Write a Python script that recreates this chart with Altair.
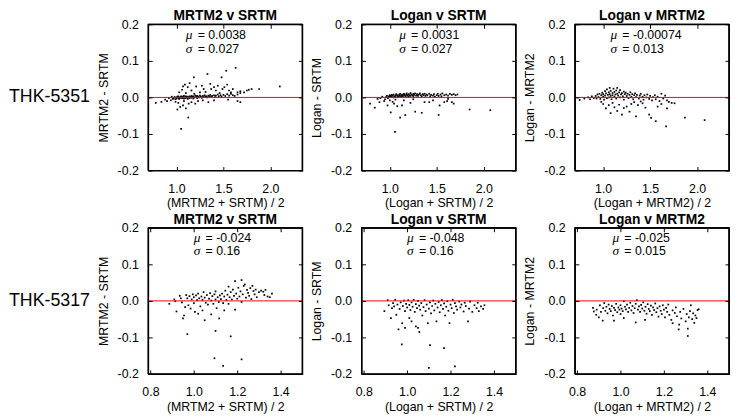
import altair as alt
import pandas as pd

FONT = "Liberation Sans"
INK = "#000000"

# ---------------- data ----------------
row_labels = ["THK-5351", "THK-5317"]
titles = ["MRTM2 v SRTM", "Logan v SRTM", "Logan v MRTM2"]
y_titles = ["MRTM2 - SRTM", "Logan - SRTM", "Logan - MRTM2"]
x_titles = ["(MRTM2 + SRTM) / 2", "(Logan + SRTM) / 2", "(Logan + MRTM2) / 2"]
mu_text = ["0.0038", "0.0031", "-0.00074", "-0.024", "-0.048", "-0.025"]
sigma_text = ["0.027", "0.027", "0.013", "0.16", "0.16", "0.015"]
y_tick_values = [-0.2, -0.1, 0.0, 0.1, 0.2]
x_ticks_top = [1.0, 1.5, 2.0]
x_ticks_bottom = [0.8, 1.0, 1.2, 1.4]
x_domain_top = [0.7, 2.34]
x_domain_bottom = [0.79, 1.5]
y_domain = [-0.2, 0.2]

a_5351_mrtm2_srtm = [
    (0.78,-0.015),(0.84,-0.012),(0.88,-0.006),(0.90,-0.010),(0.92,-0.002),(0.94,-0.008),(0.95,0.002),(0.96,-0.004),
    (0.97,-0.003),(0.98,0.001),(0.99,-0.005),(1.00,0.000),(1.00,-0.003),(1.01,0.002),(1.02,-0.002),(1.02,0.003),
    (1.03,-0.004),(1.04,0.001),(1.04,-0.001),(1.05,0.003),(1.06,-0.002),(1.06,0.000),(1.07,0.002),(1.08,-0.003),
    (1.08,0.004),(1.09,0.000),(1.10,-0.002),(1.10,0.003),(1.11,0.001),(1.12,-0.004),(1.12,0.002),(1.13,0.000),
    (1.14,0.003),(1.14,-0.002),(1.15,0.001),(1.16,0.004),(1.16,-0.001),(1.17,0.002),(1.18,-0.003),(1.18,0.003),
    (1.19,0.000),(1.20,0.005),(1.21,0.001),(1.22,-0.002),(1.22,0.004),(1.23,0.002),(1.24,0.000),(1.25,0.005),
    (1.26,0.002),(1.27,-0.001),(1.28,0.004),(1.29,0.001),(1.30,0.006),(1.31,0.002),(1.32,0.003),(1.33,0.000),
    (1.34,0.005),(1.35,0.003),(1.36,0.007),(1.37,0.002),(1.38,0.004),(1.40,0.006),(1.41,0.001),(1.42,0.005),
    (1.44,0.008),(1.45,0.003),(1.47,0.006),(1.48,0.002),(1.50,0.007),(1.52,0.004),(1.54,0.009),(1.56,0.005),
    (1.58,0.010),(1.60,0.006),(1.62,0.004),(1.65,0.008),(1.68,0.012),
    (1.03,0.014),(1.06,0.021),(1.07,0.030),(1.09,0.035),(1.12,0.028),(1.14,0.039),(1.16,0.019),(1.185,0.055),
    (1.21,0.030),(1.25,0.014),(1.27,0.032),(1.29,0.023),(1.33,0.064),(1.36,0.037),(1.37,0.023),(1.40,0.028),
    (1.42,0.019),(1.44,0.032),(1.48,0.055),(1.49,0.023),(1.51,0.028),(1.53,0.073),(1.54,0.035),(1.56,0.019),
    (1.58,0.014),(1.60,0.023),(1.63,0.081),(1.65,0.014),(1.68,0.017),(1.72,0.014),(1.75,0.019),(1.77,0.021),
    (1.80,0.023),(1.88,0.023),(2.10,0.030),(1.10,0.012),(1.19,0.010),(1.31,0.015),(1.46,0.012),
    (1.02,-0.015),(1.04,-0.026),(1.01,-0.033),(1.07,-0.022),(1.10,-0.030),(1.13,-0.017),(1.16,-0.013),(1.20,-0.017),
    (1.23,-0.010),(1.126,-0.055),(1.05,-0.086),(1.34,-0.013),(1.40,-0.008),(1.55,-0.006),(1.65,-0.010),(1.68,-0.013),
    (0.99,-0.012),(1.08,-0.010),(1.28,-0.008),
]

b_5351_logan_srtm = [
    (0.79,-0.017),(0.84,-0.028),(0.87,-0.004),(0.89,-0.013),(0.90,-0.002),(0.92,0.002),(0.94,-0.010),(0.95,-0.005),
    (0.96,0.001),(0.97,0.004),(0.98,-0.002),(0.99,0.003),(1.00,0.006),(1.00,0.001),(1.01,0.004),(1.02,0.007),
    (1.02,0.002),(1.03,0.005),(1.04,0.000),(1.04,0.008),(1.05,0.003),(1.06,0.006),(1.06,0.001),(1.07,0.009),
    (1.08,0.004),(1.08,0.006),(1.09,0.002),(1.10,0.007),(1.10,0.004),(1.11,0.010),(1.12,0.005),(1.12,0.002),
    (1.13,0.008),(1.14,0.006),(1.14,0.003),(1.15,0.010),(1.16,0.005),(1.16,0.008),(1.17,0.003),(1.18,0.007),
    (1.18,0.011),(1.19,0.005),(1.20,0.009),(1.20,0.002),(1.21,0.006),(1.22,0.012),(1.22,0.004),(1.23,0.008),
    (1.24,0.006),(1.25,0.010),(1.25,0.003),(1.26,0.007),(1.27,0.011),(1.28,0.005),(1.29,0.009),(1.30,0.004),
    (1.31,0.008),(1.32,0.011),(1.33,0.006),(1.34,0.003),(1.35,0.009),(1.36,0.006),(1.37,0.010),(1.38,0.004),
    (1.39,0.008),(1.40,0.006),(1.42,0.010),(1.43,0.003),(1.44,0.007),(1.46,0.005),(1.47,0.009),(1.48,0.002),
    (1.50,0.006),(1.51,0.010),(1.52,0.004),(1.54,0.008),(1.55,0.003),(1.56,0.011),(1.58,0.006),(1.60,0.008),
    (1.62,0.005),(1.64,0.010),(1.66,0.007),(1.68,0.009),(1.70,0.006),(1.72,0.008),
    (0.976,-0.022),(1.01,-0.041),(1.045,-0.017),(1.08,-0.024),(1.11,-0.055),(1.13,-0.022),(1.165,-0.048),(1.22,-0.015),
    (1.27,-0.039),(1.34,-0.042),(1.37,-0.013),(1.42,-0.013),(1.52,-0.048),(1.53,-0.022),(1.58,-0.013),(1.61,-0.010),
    (1.66,-0.013),(1.68,-0.017),(1.85,-0.033),(2.07,-0.035),(1.055,-0.094),(1.00,-0.008),(1.03,-0.012),(1.06,-0.006),
    (1.15,-0.008),(1.25,-0.005),(1.46,-0.008),(1.62,-0.004),
]

c_5351_logan_mrtm2 = [
    (0.75,-0.007),(0.80,-0.003),(0.84,0.000),(0.86,-0.005),(0.88,0.003),(0.90,-0.002),
    (0.92,0.004),(0.93,-0.003),(0.94,0.008),(0.95,0.001),(0.96,0.010),(0.97,-0.004),(0.98,0.006),(0.99,0.013),
    (1.00,0.002),(1.00,0.009),(1.01,-0.006),(1.02,0.017),(1.02,0.005),(1.03,0.011),(1.04,-0.002),(1.04,0.022),
    (1.05,0.007),(1.06,0.014),(1.06,0.000),(1.07,0.026),(1.07,0.009),(1.08,0.004),(1.08,0.018),(1.09,-0.005),
    (1.10,0.012),(1.10,0.006),(1.11,0.024),(1.12,0.002),(1.12,0.015),(1.13,0.008),(1.14,0.019),(1.14,-0.003),
    (1.15,0.026),(1.15,0.010),(1.16,0.005),(1.17,0.014),(1.18,0.000),(1.18,0.020),(1.19,0.008),(1.20,0.012),
    (1.21,0.003),(1.22,0.016),(1.22,-0.006),(1.23,0.009),(1.24,0.013),(1.25,0.004),(1.26,0.010),(1.27,-0.002),
    (1.28,0.007),(1.29,0.014),(1.30,0.002),(1.31,0.009),(1.32,-0.005),(1.33,0.006),(1.34,0.011),(1.35,0.001),
    (1.36,0.007),(1.38,-0.003),(1.39,0.005),(1.40,0.010),(1.42,0.002),(1.43,-0.006),(1.44,0.006),(1.46,0.000),
    (1.47,0.008),(1.49,-0.004),(1.50,0.004),(1.52,-0.008),(1.53,0.001),(1.55,0.006),(1.56,-0.005),(1.58,0.002),
    (1.60,-0.010),(1.62,0.010),(1.64,-0.003),(1.66,0.005),(1.68,-0.008),(1.70,-0.012),(1.73,-0.015),(1.76,-0.016),
    (0.98,-0.012),(1.00,-0.018),(1.03,-0.030),(1.06,-0.021),(1.08,-0.043),(1.10,-0.015),(1.12,-0.027),(1.15,-0.037),
    (1.17,-0.020),(1.20,-0.047),(1.22,-0.029),(1.25,-0.025),(1.28,-0.039),(1.30,-0.018),(1.35,-0.052),(1.37,-0.021),
    (1.42,-0.016),(1.45,-0.028),(1.49,-0.047),(1.51,-0.056),(1.56,-0.065),(1.58,-0.025),(1.62,-0.018),(1.68,-0.030),
    (1.67,-0.079),(1.87,-0.055),(2.08,-0.062),(1.40,-0.011),(1.33,-0.013),
]

d_5317_mrtm2_srtm = [
    (0.887,-0.008),(0.91,0.004),(0.915,-0.001),(0.92,-0.029),(0.935,0.014),(0.94,0.007),(0.945,-0.004),(0.95,-0.048),
    (0.955,-0.040),(0.96,-0.017),(0.965,0.016),(0.97,0.007),(0.975,-0.012),(0.98,0.013),(0.985,-0.021),(0.99,0.004),
    (0.995,0.018),(1.00,-0.006),(1.00,0.010),(1.005,-0.030),(1.01,0.015),(1.015,0.002),(1.02,-0.035),(1.02,0.020),
    (1.025,0.007),(1.03,-0.015),(1.035,0.012),(1.04,-0.026),(1.04,0.003),(1.045,0.024),(1.05,-0.053),(1.05,0.009),
    (1.055,-0.005),(1.06,0.016),(1.065,-0.010),(1.07,0.006),(1.075,0.021),(1.08,-0.037),(1.08,0.001),(1.085,0.013),
    (1.09,-0.008),(1.095,0.018),(1.10,0.004),(1.10,0.026),(1.105,-0.020),(1.11,0.010),(1.115,-0.003),(1.117,-0.048),
    (1.12,0.015),(1.125,0.005),(1.13,0.020),(1.135,-0.006),(1.14,0.012),(1.14,-0.026),(1.145,0.028),(1.15,0.003),
    (1.155,0.017),(1.16,0.039),(1.16,-0.008),(1.165,0.010),(1.17,0.024),(1.175,0.004),(1.18,0.031),(1.185,0.014),
    (1.19,0.054),(1.19,-0.024),(1.195,0.020),(1.20,0.006),(1.205,0.036),(1.21,0.012),(1.215,0.026),(1.22,0.057),
    (1.22,-0.003),(1.225,0.018),(1.23,0.041),(1.235,0.045),(1.24,0.009),(1.245,0.030),(1.25,0.022),(1.255,0.014),
    (1.26,0.035),(1.265,0.005),(1.27,0.041),(1.275,0.027),(1.28,0.018),(1.285,0.031),(1.29,0.010),(1.30,0.024),
    (1.31,0.028),(1.32,0.025),(1.325,0.016),(1.33,0.030),(1.34,0.012),(1.35,0.010),(1.36,0.020),
    (0.97,-0.091),(1.10,-0.082),(1.17,-0.097),(1.095,-0.157),(1.22,-0.160),(1.135,-0.178),
]

e_5317_logan_srtm = [
    (0.895,-0.028),(0.91,0.002),(0.915,-0.012),(0.925,-0.047),(0.93,-0.020),(0.935,-0.006),(0.94,-0.015),(0.945,0.003),
    (0.95,-0.038),(0.955,-0.010),(0.96,-0.078),(0.965,-0.022),(0.97,-0.004),(0.975,-0.119),(0.977,-0.061),(0.98,-0.014),
    (0.985,0.001),(0.99,-0.074),(0.99,-0.028),(0.995,-0.008),(1.00,-0.018),(1.005,0.002),(1.01,-0.047),(1.01,-0.011),
    (1.015,-0.025),(1.02,-0.056),(1.02,-0.004),(1.025,-0.016),(1.03,0.003),(1.035,-0.030),(1.04,-0.070),(1.04,-0.009),
    (1.045,-0.020),(1.05,-0.074),(1.05,0.000),(1.055,-0.013),(1.056,-0.085),(1.06,-0.024),(1.065,-0.006),(1.07,-0.040),
    (1.075,-0.017),(1.08,0.002),(1.085,-0.028),(1.09,-0.010),(1.095,-0.061),(1.10,-0.021),(1.10,-0.183),(1.105,-0.121),
    (1.105,-0.004),(1.11,-0.034),(1.115,-0.014),(1.12,0.001),(1.125,-0.026),(1.13,-0.008),(1.135,-0.056),(1.14,-0.018),
    (1.145,-0.003),(1.15,-0.031),(1.155,-0.012),(1.16,0.002),(1.165,-0.022),(1.17,-0.129),(1.17,-0.007),(1.175,-0.040),
    (1.18,-0.016),(1.185,-0.001),(1.19,-0.027),(1.195,-0.061),(1.20,-0.010),(1.205,-0.020),(1.21,0.003),(1.215,-0.033),
    (1.22,-0.179),(1.22,-0.006),(1.225,-0.015),(1.23,-0.024),(1.24,-0.002),(1.245,-0.018),(1.25,-0.010),(1.26,-0.029),
    (1.265,-0.005),(1.27,-0.014),(1.28,-0.056),(1.285,-0.021),(1.29,-0.002),(1.30,-0.030),(1.31,-0.012),(1.32,-0.020),
    (1.325,-0.005),(1.33,-0.028),(1.34,-0.015),(1.35,-0.022),(1.356,-0.012),
]

f_5317_logan_mrtm2 = [
    (0.873,-0.019),(0.877,-0.029),(0.888,-0.038),(0.89,-0.024),(0.90,-0.045),(0.905,-0.012),(0.91,-0.030),(0.918,-0.054),
    (0.92,-0.020),(0.925,-0.006),(0.93,-0.027),(0.935,-0.016),(0.94,-0.034),(0.945,-0.010),(0.95,-0.022),(0.955,-0.028),
    (0.96,-0.014),(0.965,-0.040),(0.97,-0.054),(0.97,-0.019),(0.975,-0.025),(0.98,-0.008),(0.985,-0.031),(0.99,-0.018),
    (0.995,-0.024),(1.00,-0.012),(1.00,-0.036),(1.005,-0.021),(1.01,-0.028),(1.015,-0.001),(1.015,-0.047),(1.02,-0.016),
    (1.025,-0.023),(1.03,-0.010),(1.035,-0.030),(1.04,-0.019),(1.045,-0.005),(1.05,-0.026),(1.055,-0.014),(1.06,-0.033),
    (1.065,-0.020),(1.07,-0.059),(1.07,-0.008),(1.075,0.002),(1.08,-0.024),(1.085,-0.015),(1.09,-0.030),(1.095,-0.011),
    (1.10,-0.021),(1.105,-0.004),(1.11,-0.027),(1.113,-0.052),(1.115,-0.016),(1.12,-0.035),(1.125,-0.009),(1.13,-0.022),
    (1.135,-0.028),(1.14,-0.013),(1.145,-0.038),(1.15,-0.018),(1.155,-0.025),(1.16,-0.007),(1.165,-0.031),(1.17,-0.020),
    (1.175,-0.043),(1.18,-0.015),(1.185,-0.027),(1.19,-0.036),(1.195,-0.012),(1.20,-0.024),(1.205,-0.045),(1.21,-0.019),
    (1.215,-0.030),(1.22,-0.010),(1.225,-0.038),(1.234,-0.052),(1.24,-0.026),(1.24,-0.061),(1.25,-0.033),(1.255,-0.018),
    (1.26,-0.042),(1.27,-0.065),(1.268,-0.078),(1.275,-0.030),(1.28,-0.048),(1.29,-0.022),(1.30,-0.056),(1.305,-0.036),
    (1.31,-0.076),(1.31,-0.096),(1.315,-0.045),(1.32,-0.028),(1.324,-0.012),(1.33,-0.050),(1.335,-0.034),(1.34,-0.060),
    (1.345,-0.040),(1.35,-0.047),(1.355,-0.025),(1.36,-0.023),
]

panels_data = [a_5351_mrtm2_srtm, b_5351_logan_srtm, c_5351_logan_mrtm2,
               d_5317_mrtm2_srtm, e_5317_logan_srtm, f_5317_logan_mrtm2]

# ---------------- layout / style ----------------
W, H = 156, 148
TICK = 4
label_expr = "datum.value < 0 ? '-' + format(-datum.value, '.1f') : format(datum.value, '.1f')"
mu_dx = [38, 38, 36, 46, 46, 38]
mu_dy = [11, 11, 11, 10, 10, 10]
sig_dy = [25, 25, 25, 24, 24, 24]


def panel(i):
    row, col = divmod(i, 3)
    xdom = x_domain_top if row == 0 else x_domain_bottom
    xticks = x_ticks_top if row == 0 else x_ticks_bottom
    df = pd.DataFrame(panels_data[i], columns=["a", "d"])
    xs = alt.Scale(domain=xdom, nice=False, zero=False)
    ys = alt.Scale(domain=y_domain, nice=False, zero=False)
    xenc = alt.X("a:Q", scale=xs, axis=alt.Axis(values=xticks, labelExpr=label_expr, title=x_titles[col],
                                                 ticks=True, tickSize=TICK, tickColor=INK, tickWidth=1,
                                                 tickOpacity=1, offset=-TICK, domain=False, grid=False,
                                                 labelPadding=8 + TICK, titlePadding=2, zindex=2))
    yenc = alt.Y("d:Q", scale=ys, axis=alt.Axis(values=y_tick_values, labelExpr=label_expr, title=y_titles[col],
                                                 ticks=True, tickSize=TICK, tickColor=INK, tickWidth=1,
                                                 tickOpacity=1, offset=-TICK, domain=False, grid=False,
                                                 labelPadding=6 + TICK, titlePadding=7, zindex=2))
    pts = alt.Chart(df).mark_square(size=3, color="black", opacity=1).encode(x=xenc, y=yenc)
    zero = alt.Chart(pd.DataFrame({"d": [0.0]})).mark_rule(color="#ff0000", strokeWidth=1).encode(
        y=alt.Y("d:Q", axis=None))
    # box around the plot: rules at the domain edges plus a closed outline through the corners
    hb = alt.Chart(pd.DataFrame({"d": y_domain})).mark_rule(stroke=INK, strokeWidth=1.2,
                                                            strokeOpacity=1).encode(y=alt.Y("d:Q", axis=None))
    vb = alt.Chart(pd.DataFrame({"a": xdom})).mark_rule(stroke=INK, strokeWidth=1.2,
                                                        strokeOpacity=1).encode(x=alt.X("a:Q", axis=None))
    corners = pd.DataFrame({"a": [xdom[0], xdom[1], xdom[1], xdom[0], xdom[0]],
                            "d": [y_domain[0], y_domain[0], y_domain[1], y_domain[1], y_domain[0]],
                            "k": [0, 1, 2, 3, 4]})
    outline = alt.Chart(corners).mark_line(color=INK, strokeWidth=1.2, opacity=1).encode(
        x=alt.X("a:Q", axis=None), y=alt.Y("d:Q", axis=None), order="k:O")
    mirror = alt.Chart(pd.DataFrame({"a": [xdom[0]], "d": [y_domain[0]]})).mark_point(opacity=0).encode(
        x=alt.X("a:Q", axis=alt.Axis(orient="top", values=xticks, labels=False, title=None, ticks=True,
                                      tickSize=TICK, tickColor=INK, tickWidth=1, tickOpacity=1, offset=-TICK,
                                      domain=False, grid=False, zindex=2)),
        y=alt.Y("d:Q", axis=alt.Axis(orient="right", values=y_tick_values, labels=False, title=None, ticks=True,
                                      tickSize=TICK, tickColor=INK, tickWidth=1, tickOpacity=1, offset=-TICK,
                                      domain=False, grid=False, zindex=2)))

    def txt(s, dx, dy, **kw):
        return alt.Chart(pd.DataFrame({"t": [s]})).mark_text(align="left", baseline="middle", **kw).encode(
            text="t:N", x=alt.value(dx), y=alt.value(dy))

    greek = dict(font="Liberation Serif", fontStyle="italic", fontSize=13.5)
    plain = dict(font=FONT, fontSize=12.5)
    layers = [pts, zero, hb, vb, outline, mirror,
              txt("μ", mu_dx[i], mu_dy[i], **greek),
              txt("= " + mu_text[i], mu_dx[i] + 12, mu_dy[i], **plain),
              txt("σ", mu_dx[i], sig_dy[i], **greek),
              txt("= " + sigma_text[i], mu_dx[i] + 12, sig_dy[i], **plain)]
    if col == 0:
        layers.append(txt(row_labels[row], -141, H / 2, font=FONT, fontSize=18))
    return alt.layer(*layers).resolve_axis(x="independent", y="independent").properties(
        width=W, height=H,
        title=alt.Title(titles[col], fontSize=14, fontWeight="bold", font=FONT, offset=-5))


chart = alt.concat(*[panel(i) for i in range(6)], columns=3, bounds="flush",
                   spacing=alt.RowColnumber(row=58, column=60)).properties(
    padding={"top": -2, "left": 0, "right": 0, "bottom": 0}).configure_view(
    stroke=INK, strokeWidth=1.2, strokeOpacity=1).configure_axis(
    labelFont=FONT, titleFont=FONT, labelFontSize=12.5, titleFontSize=12.5, titleFontWeight="normal",
    labelColor="black", titleColor="black").configure_title(color="black")

chart.save("out.html", embed_options={"renderer": "svg", "actions": False})
